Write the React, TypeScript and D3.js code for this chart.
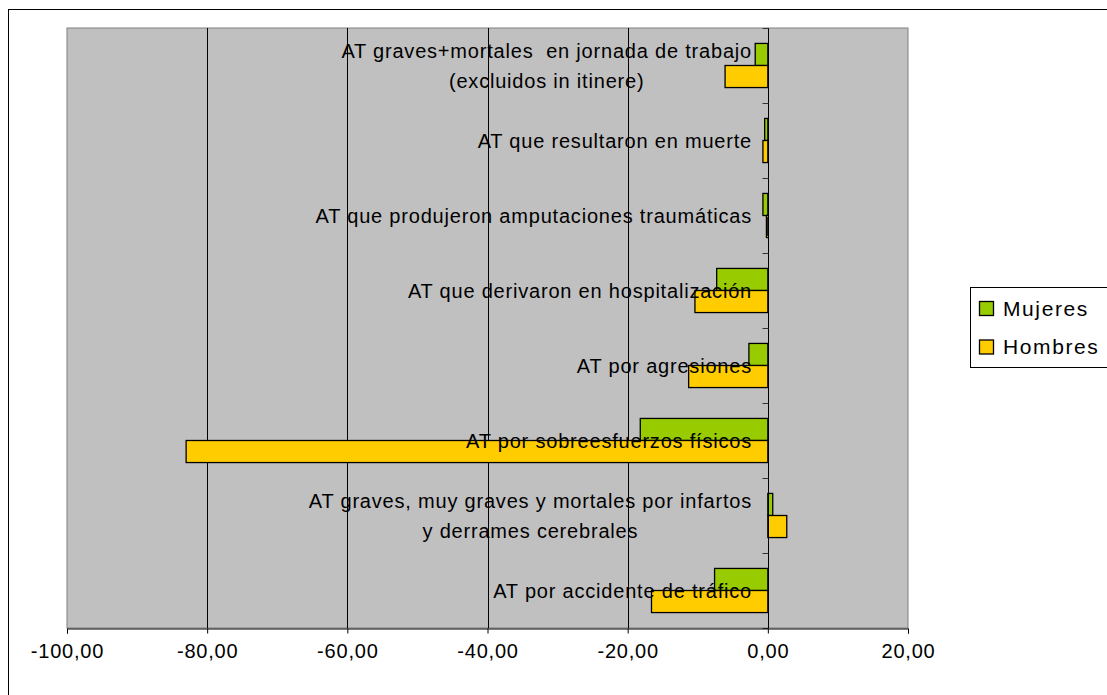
import React, { useEffect, useRef } from 'react';
import * as d3 from 'd3';

const categories = [
  'AT graves+mortales  en jornada de trabajo\n(excluidos in itinere)',
  'AT que resultaron en muerte',
  'AT que produjeron amputaciones traumáticas',
  'AT que derivaron en hospitalización',
  'AT por agresiones',
  'AT por sobreesfuerzos físicos',
  'AT graves, muy graves y mortales por infartos\ny derrames cerebrales',
  'AT por accidente de tráfico',
];
const mujeres = [-1.8, -0.45, -0.7, -7.3, -2.7, -18.2, 0.7, -7.6];
const hombres = [-6.1, -0.7, -0.2, -10.4, -11.3, -83.0, 2.7, -16.6];
const seriesNames = ['Mujeres', 'Hombres'];
const seriesColors = ['#99CC00', '#FFCC00'];
const xTicks = [-100, -80, -60, -40, -20, 0, 20];

const FONT = '"Liberation Sans", Arial, sans-serif';

export default function App() {
  const svgRef = useRef<SVGSVGElement>(null);

  useEffect(() => {
    if (!svgRef.current) return;
    const svg = d3.select(svgRef.current);
    svg.selectAll('*').remove();

    const plot = { left: 67, right: 908, top: 28, bottom: 628 };

    // outer chart border (runs off the page at right/bottom)
    svg.append('rect')
      .attr('x', 8.5).attr('y', 9.5)
      .attr('width', 1200).attr('height', 800)
      .attr('fill', '#fff').attr('stroke', '#000').attr('stroke-width', 1);

    const x = d3.scaleLinear().domain([-100, 20]).range([plot.left, plot.right]);
    const y = d3.scaleBand<string>().domain(categories).range([plot.top, plot.bottom]).padding(0);
    const groupH = y.bandwidth() / 1.7;
    const inner = d3.scaleBand<string>().domain(seriesNames).range([0, groupH]).padding(0);
    const groupOff = (y.bandwidth() - groupH) / 2;

    svg.append('rect')
      .attr('x', plot.left).attr('y', plot.top)
      .attr('width', plot.right - plot.left).attr('height', plot.bottom - plot.top)
      .attr('fill', '#C0C0C0').attr('stroke', '#808080').attr('stroke-width', 1);

    // vertical gridlines
    svg.selectAll('.grid')
      .data(xTicks.filter(t => t > -100 && t < 20))
      .enter().append('line')
      .attr('x1', d => Math.round(x(d)) + 0.5).attr('x2', d => Math.round(x(d)) + 0.5)
      .attr('y1', plot.top).attr('y2', plot.bottom)
      .attr('stroke', '#000').attr('stroke-width', 1);

    // bars
    const data = [mujeres, hombres];
    data.forEach((vals, si) => {
      svg.selectAll(`.bar-${si}`)
        .data(vals)
        .enter().append('rect')
        .attr('x', d => x(Math.min(0, d)))
        .attr('y', (_, i) => (y(categories[i]) || 0) + groupOff + (inner(seriesNames[si]) || 0))
        .attr('width', d => Math.abs(x(d) - x(0)))
        .attr('height', inner.bandwidth())
        .attr('fill', seriesColors[si])
        .attr('stroke', '#000').attr('stroke-width', 1.3);
    });

    // zero axis + category ticks
    const x0 = Math.round(x(0)) + 0.5;
    svg.append('line')
      .attr('x1', x0).attr('x2', x0).attr('y1', plot.top).attr('y2', plot.bottom)
      .attr('stroke', '#000').attr('stroke-width', 1);
    const bounds = categories.map(c => y(c) || 0).concat([plot.bottom]);
    svg.selectAll('.ytick')
      .data(bounds)
      .enter().append('line')
      .attr('x1', x0 - 6).attr('x2', x0)
      .attr('y1', d => Math.round(d) + 0.5).attr('y2', d => Math.round(d) + 0.5)
      .attr('stroke', '#333').attr('stroke-width', 1);

    // x axis
    const fmt = (v: number) => v.toFixed(2).replace('.', ',');
    const xAxis = svg.append('g')
      .attr('transform', `translate(0,${plot.bottom + 0.5})`)
      .call(d3.axisBottom(x).tickValues(xTicks).tickSize(5).tickPadding(10)
        .tickFormat(d => fmt(d as number)));
    xAxis.select('.domain').attr('stroke', '#000');
    xAxis.selectAll('line').attr('stroke', '#000');
    xAxis.selectAll('text')
      .attr('fill', '#000')
      .style('font-family', FONT).style('font-size', '20px').style('letter-spacing', '0.8px');

    // category labels, drawn over the bars
    const labelRight = 752;
    categories.forEach(c => {
      const lines = c.split('\n');
      const cy = (y(c) || 0) + y.bandwidth() / 2;
      const g = svg.append('g');
      const texts = lines.map((ln, li) =>
        g.append('text')
          .attr('y', cy + (li - (lines.length - 1) / 2) * 30)
          .attr('dy', '0.35em')
          .attr('text-anchor', 'middle')
          .attr('fill', '#000')
          .style('font-family', FONT).style('font-size', '20px').style('letter-spacing', '0.8px')
          .style('white-space', 'pre')
          .text(ln)
      );
      const maxW = d3.max(texts, t => (t.node() as SVGTextElement).getComputedTextLength()) || 0;
      texts.forEach(t => t.attr('x', labelRight - maxW / 2));
    });

    // legend
    const lg = svg.append('g');
    lg.append('rect')
      .attr('x', 970.5).attr('y', 287.5).attr('width', 200).attr('height', 80)
      .attr('fill', '#fff').attr('stroke', '#000').attr('stroke-width', 1);
    seriesNames.forEach((s, i) => {
      const cy = 308.5 + i * 38.5;
      lg.append('rect')
        .attr('x', 979.5).attr('y', cy - 7).attr('width', 14).attr('height', 14)
        .attr('fill', seriesColors[i]).attr('stroke', '#000').attr('stroke-width', 1.3);
      lg.append('text')
        .attr('x', 1003).attr('y', cy).attr('dy', '0.35em')
        .attr('fill', '#000')
        .style('font-family', FONT).style('font-size', '21px').style('letter-spacing', '1.6px')
        .text(s);
    });
  }, []);

  return (
    <svg
      ref={svgRef}
      width={1107}
      height={695}
      style={{ position: 'absolute', left: 0, top: 0, display: 'block', background: '#fff' }}
    />
  );
}
